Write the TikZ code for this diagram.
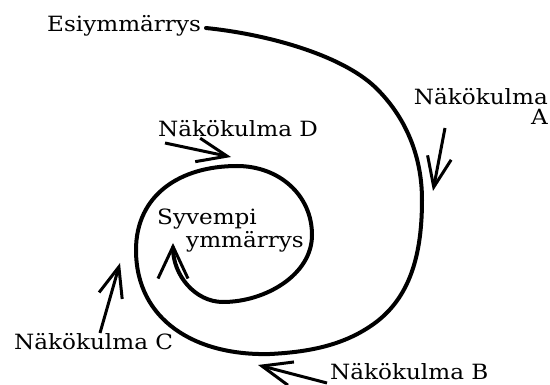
\documentclass[tikz,border=0pt]{standalone}
\usepackage{fontspec}
\setmainfont{DejaVu Serif}[FakeStretch=1.1]
\usetikzlibrary{arrows.meta}
\begin{document}
\begin{tikzpicture}[x=1pt,y=-1pt,
  lbl/.style={inner sep=0pt,font=\fontsize{21}{20}\selectfont},
  spiral/.style={line width=4pt,line cap=round},
  pointer/.style={line width=3pt,-{Straight Barb[length=30pt,width=24pt,line width=3pt]}}]
\useasboundingbox (0,0) rectangle (550,385);
% labels
\node[lbl,anchor=base west] (esi) at (47,32) {Esiymmärrys};
\node[lbl,anchor=base west] (nd) at (158,137) {Näkökulma D};
\node[lbl,anchor=base east,align=right] (na) at (548,125) {Näkökulma\\A};
\node[lbl,anchor=base west] (sy1) at (157,225) {Syvempi};
\node[lbl,anchor=base west] (sy2) at (186,248) {ymmärrys};
\node[lbl,anchor=base west] (nc) at (14,350) {Näkökulma C};
\node[lbl,anchor=base west] (nb) at (330,380) {Näkökulma B};
% spiral
\coordinate (s0) at (206,28);
\coordinate (s1) at (375,87);
\coordinate (s2) at (422,200);
\coordinate (s3) at (375,323);
\coordinate (s4) at (270,354);
\coordinate (s5) at (136,250);
\coordinate (s6) at (237,166);
\coordinate (s7) at (312,235);
\coordinate (s8) at (223,302);
\coordinate (tipin) at (173,243);
\draw[spiral,-{Straight Barb[length=32pt,width=30pt,line width=3pt]}]
 (s0) .. controls (265,34) and (340,54) .. (s1)
      .. controls (405,116) and (422,155) .. (s2)
      .. controls (422,255) and (410,297) .. (s3)
      .. controls (345,345) and (310,352) .. (s4)
      .. controls (195,356) and (136,320) .. (s5)
      .. controls (136,195) and (180,166) .. (s6)
      .. controls (279,166) and (312,195) .. (s7)
      .. controls (312,275) and (265,302) .. (s8)
      .. controls (195,302) and (173,275) .. (tipin);
% pointers
\coordinate (dt) at (165,143); \coordinate (dh) at (231,157);
\coordinate (at) at (445,128); \coordinate (ah) at (433,191);
\coordinate (bt) at (327,383); \coordinate (bh) at (258,365);
\coordinate (ct) at (100,333); \coordinate (ch) at (120,263);
\draw[pointer] (dt) -- (dh);
\draw[pointer] (at) -- (ah);
\draw[pointer] (bt) -- (bh);
\draw[pointer] (ct) -- (ch);
\end{tikzpicture}
\end{document}
